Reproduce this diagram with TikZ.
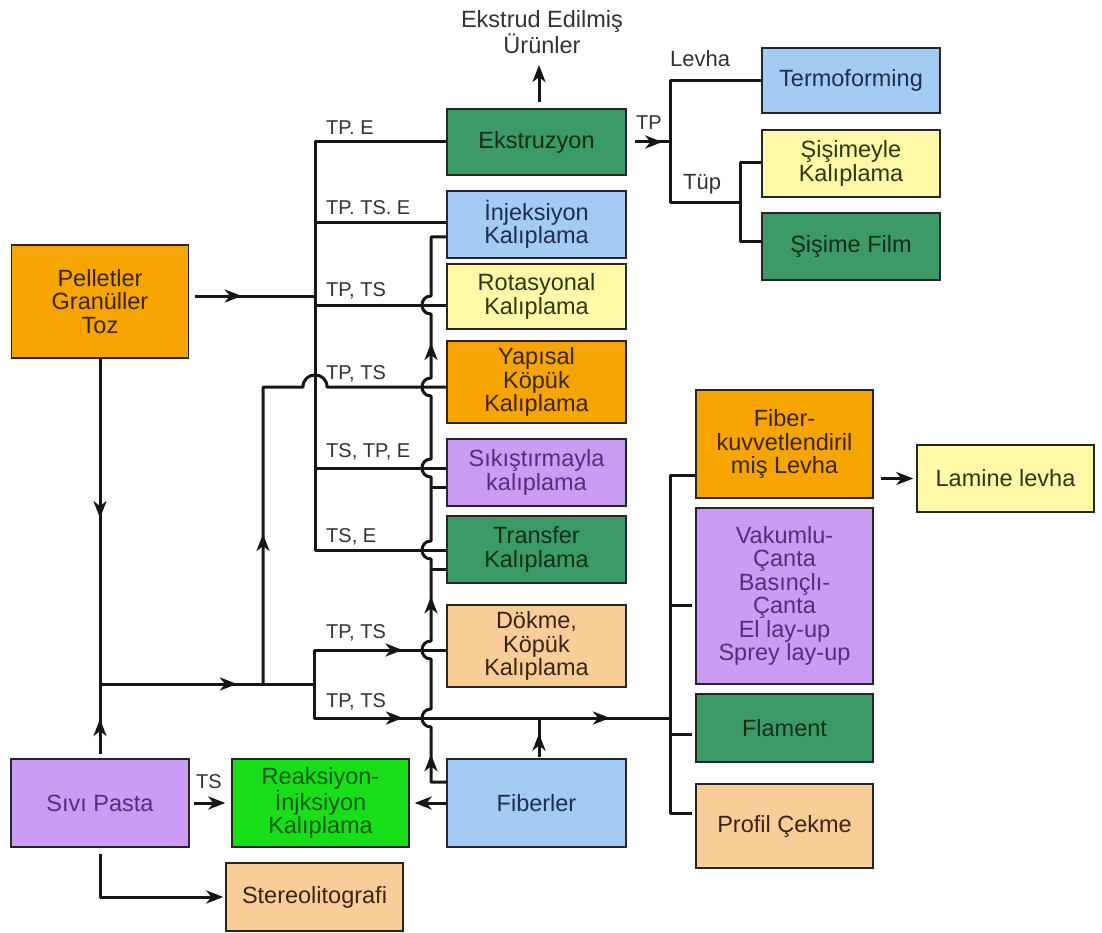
\documentclass[tikz,border=0pt]{standalone}
\usepackage{fontspec}
\setmainfont{Liberation Sans}
\usetikzlibrary{arrows.meta,decorations.markings,calc}

% fills
\definecolor{cOrange}{RGB}{246,164,0}
\definecolor{cLav}{RGB}{202,156,244}
\definecolor{cBlue}{RGB}{163,203,243}
\definecolor{cGreen}{RGB}{60,154,102}
\definecolor{cYellow}{RGB}{255,249,168}
\definecolor{cPeach}{RGB}{249,205,152}
\definecolor{cBright}{RGB}{24,222,24}
% text inks
\definecolor{tOrange}{RGB}{58,38,0}
\definecolor{tLav}{RGB}{90,42,130}
\definecolor{tBlue}{RGB}{30,45,80}
\definecolor{tGreen}{RGB}{14,46,26}
\definecolor{tYellow}{RGB}{44,56,14}
\definecolor{tPeach}{RGB}{58,36,20}
\definecolor{tBright}{RGB}{12,92,12}
\definecolor{lineInk}{RGB}{22,22,22}
\definecolor{lblInk}{RGB}{50,50,50}

\newcommand\boxfont{\fontsize{23.5}{23.4}\selectfont}
\newcommand\lblfont{\fontsize{20}{21}\selectfont}
\newcommand\lblbigfont{\fontsize{22}{23}\selectfont}

\tikzset{
  >={Stealth[length=17pt,width=13pt,inset=5pt]},
  flow/.style={draw=lineInk, line width=3pt, line join=round},
  proc/.style={draw=black!85, line width=1.4pt, align=center, inner sep=0pt, font=\boxfont},
  bOrange/.style={proc, fill=cOrange, text=tOrange},
  bLav/.style={proc, fill=cLav, text=tLav},
  bBlue/.style={proc, fill=cBlue, text=tBlue},
  bGreen/.style={proc, fill=cGreen, text=tGreen},
  bYellow/.style={proc, fill=cYellow, text=tYellow},
  bPeach/.style={proc, fill=cPeach, text=tPeach},
  bBright/.style={proc, fill=cBright, text=tBright},
  lbl/.style={anchor=base west, font=\lblfont, text=lblInk, inner sep=0pt},
  lblbig/.style={lbl, font=\lblbigfont},
  midarrow/.style={postaction={decorate}, decoration={markings, mark=at position #1 with {\arrow{>}}}},
  midarrow/.default=0.5
}

\begin{document}
\begin{tikzpicture}[x=1pt, y=-1pt]
\useasboundingbox (0,0) rectangle (1102,933);
\fill[white] (0,0) rectangle (1102,933);

% ---------- process boxes ----------
\node[bOrange, minimum width=177pt, minimum height=113pt] (pel) at (100,301.5) {Pelletler\\Granüller\\Toz};
\node[bLav, minimum width=178pt, minimum height=88pt] (siv) at (100,803) {Sıvı Pasta};
\node[bBright, minimum width=177pt, minimum height=88pt] (rea) at (320.5,803) {Reaksiyon-\\İnjksiyon\\Kalıplama};
\node[bPeach, minimum width=177pt, minimum height=68pt] (ste) at (314.5,897) {Stereolitografi};

\node[bGreen, minimum width=179pt, minimum height=66pt] (ext) at (536.5,142) {Ekstruzyon};
\node[bBlue, minimum width=179pt, minimum height=67pt] (inj) at (536.5,224.5) {İnjeksiyon\\Kalıplama};
\node[bYellow, minimum width=179pt, minimum height=65pt] (rot) at (536.5,296.5) {Rotasyonal\\Kalıplama};
\node[bOrange, minimum width=179pt, minimum height=82pt] (yap) at (536.5,382) {Yapısal\\Köpük\\Kalıplama};
\node[bLav, minimum width=179pt, minimum height=67pt] (sik) at (536.5,472.5) {Sıkıştırmayla\\kalıplama};
\node[bGreen, minimum width=179pt, minimum height=67pt] (trn) at (536.5,549.5) {Transfer\\Kalıplama};
\node[bPeach, minimum width=179pt, minimum height=82pt] (dok) at (536.5,646) {Dökme,\\Köpük\\Kalıplama};
\node[bBlue, minimum width=179pt, minimum height=88pt] (fib) at (536.5,803) {Fiberler};

\node[bBlue, minimum width=178pt, minimum height=65pt] (term) at (851,80.5) {Termoforming};
\node[bYellow, minimum width=178pt, minimum height=67pt] (sis) at (851,163.5) {Şişimeyle\\Kalıplama};
\node[bGreen, minimum width=178pt, minimum height=67pt] (film) at (851,246.5) {Şişime Film};

\node[bOrange, minimum width=177pt, minimum height=108pt] (fkv) at (784.5,444) {Fiber-\\kuvvetlendiril\\miş Levha};
\node[bYellow, minimum width=177pt, minimum height=67pt] (lam) at (1005.5,478.5) {Lamine levha};
\node[bLav, minimum width=177pt, minimum height=176pt] (vak) at (784.5,596) {Vakumlu-\\Çanta\\Basınçlı-\\Çanta\\El lay-up\\Sprey lay-up};
\node[bGreen, minimum width=177pt, minimum height=68pt] (fla) at (784.5,728) {Flament};
\node[bPeach, minimum width=177pt, minimum height=84pt] (pro) at (784.5,826) {Profil Çekme};

\node[font=\boxfont, text=lblInk, align=center, inner sep=0pt] (eout) at (542,32) {Ekstrud Edilmiş\\Ürünler};

% ---------- junction points ----------
\coordinate (lb1) at (315,142);
\coordinate (lb2) at (315,223);
\coordinate (lbIn) at (315,296);
\coordinate (lb3) at (315,305);
\coordinate (lb5) at (315,468);
\coordinate (lb6) at (315,550);
\coordinate (pelOut) at (195,296);

\coordinate (vj) at (100,684);
\coordinate (sivTop) at (100,754);
\coordinate (bj) at (314,684);
\coordinate (yv) at (263,684);
\coordinate (yc) at (263,387);
\coordinate (fa) at (314,650);
\coordinate (fb) at (314,718);
\coordinate (rbm) at (670,718);

\coordinate (iv0) at (431,782);
\coordinate (ivT) at (431,237);
\coordinate (iv4) at (431,487);
\coordinate (iv5) at (431,569);
\coordinate (fibUp) at (539,757);
\coordinate (fibBus) at (539,718);

\coordinate (rb1) at (670,475);
\coordinate (rb2) at (670,605);
\coordinate (rb3) at (670,734);
\coordinate (rb4) at (670,813);

\coordinate (eb) at (539,102);
\coordinate (eu) at (539,65);
\coordinate (tr0) at (635,142);
\coordinate (trJ) at (670,142);
\coordinate (tv1) at (670,81);
\coordinate (tv2) at (670,203);
\coordinate (tw1) at (740,163);
\coordinate (tw2) at (740,203);
\coordinate (tw3) at (740,242);

% ---------- left bus (pellets) ----------
\draw[flow, midarrow=0.39] (pelOut) -- (lbIn);
\draw[flow] (ext.west |- lb1) -- (lb1) -- (lb6) -- (trn.west |- lb6);
\draw[flow] (lb2) -- (inj.west |- lb2);
\draw[flow] (lb3) -- (rot.west |- lb3);
\draw[flow] (lb5) -- (sik.west |- lb5);

% ---------- left vertical and lower bus ----------
\draw[flow, midarrow=0.49] (pel.south) -- (vj);
\draw[flow, midarrow=0.5] (sivTop) -- (vj);
\draw[flow, midarrow=0.64] (vj) -- (bj);
\draw[flow, postaction={decorate}, decoration={markings, mark=at position 150pt with {\arrow{>}}}]
  (yv) -- (yc) -- (303,387) .. controls (303,371) and (327,371) .. (327,387) -- (yap.west |- yc);
\draw[flow, midarrow=0.669] (fa) -- (dok.west |- fa);
\draw[flow, postaction={decorate}, decoration={markings,
    mark=at position 157pt with {\arrow{>}},
    mark=at position 364pt with {\arrow{>}}}]
  (fa) -- (fb) -- (rbm);
\draw[flow, midarrow=0.6] (fibUp) -- (fibBus);

% ---------- inner return line from fibres, hopping the branches ----------
\draw[flow, postaction={decorate}, decoration={markings,
    mark=at position 43pt with {\arrow{>}},
    mark=at position 222pt with {\arrow{>}},
    mark=at position 507pt with {\arrow{>}}}]
  (fib.west |- iv0) -- (iv0)
  -- (431,727) .. controls (419,727) and (419,709) .. (431,709)
  -- (431,659) .. controls (419,659) and (419,641) .. (431,641)
  -- (431,559) .. controls (419,559) and (419,541) .. (431,541)
  -- (431,477) .. controls (419,477) and (419,459) .. (431,459)
  -- (431,396) .. controls (419,396) and (419,378) .. (431,378)
  -- (431,314) .. controls (419,314) and (419,296) .. (431,296)
  -- (ivT) -- (inj.west |- ivT);
\draw[flow] (iv4) -- (sik.west |- iv4);
\draw[flow] (iv5) -- (trn.west |- iv5);

% ---------- right bus (composites) ----------
\draw[flow, shorten >=3pt] (fkv.west |- rb1) -- (rb1) -- (rb4) -- (pro.west |- rb4);
\draw[flow, shorten >=3pt] (rb2) -- (vak.west |- rb2);
\draw[flow, shorten >=3pt] (rb3) -- (fla.west |- rb3);
\draw[flow, ->, shorten <=7pt, shorten >=3pt] (fkv.east |- lam.west) -- (lam.west);

% ---------- extrusion outputs ----------
\draw[flow, ->] (eb) -- (eu);
\draw[flow, midarrow=0.78] (tr0) -- (trJ);
\draw[flow] (term.west |- tv1) -- (tv1) -- (tv2) -- (tw2);
\draw[flow] (sis.west |- tw1) -- (tw1) -- (tw3) -- (film.west |- tw3);

% ---------- liquid paste ----------
\draw[flow, ->, shorten <=4pt, shorten >=6pt] (siv) -- (rea);
\draw[flow, ->, shorten >=5pt] (fib) -- (rea);
\draw[flow, ->, shorten <=6pt, shorten >=2pt] (siv.south) |- (ste.west);

% ---------- labels ----------
\node[lbl] (l1) at (326,135) {TP. E};
\node[lbl] (l2) at (326,215) {TP. TS. E};
\node[lbl] (l3) at (326,296) {TP, TS};
\node[lbl] (l4) at (326,379) {TP, TS};
\node[lbl] (l5) at (326,457) {TS, TP, E};
\node[lbl] (l6) at (326,542) {TS, E};
\node[lbl] (l7) at (326,638) {TP, TS};
\node[lbl] (l8) at (326,707) {TP, TS};
\node[lbl] (l9) at (636,130) {TP};
\node[lblbig] (l10) at (670,67) {Levha};
\node[lblbig] (l11) at (683,190) {Tüp};
\node[lbl] (l12) at (196,788) {TS};
\end{tikzpicture}
\end{document}
